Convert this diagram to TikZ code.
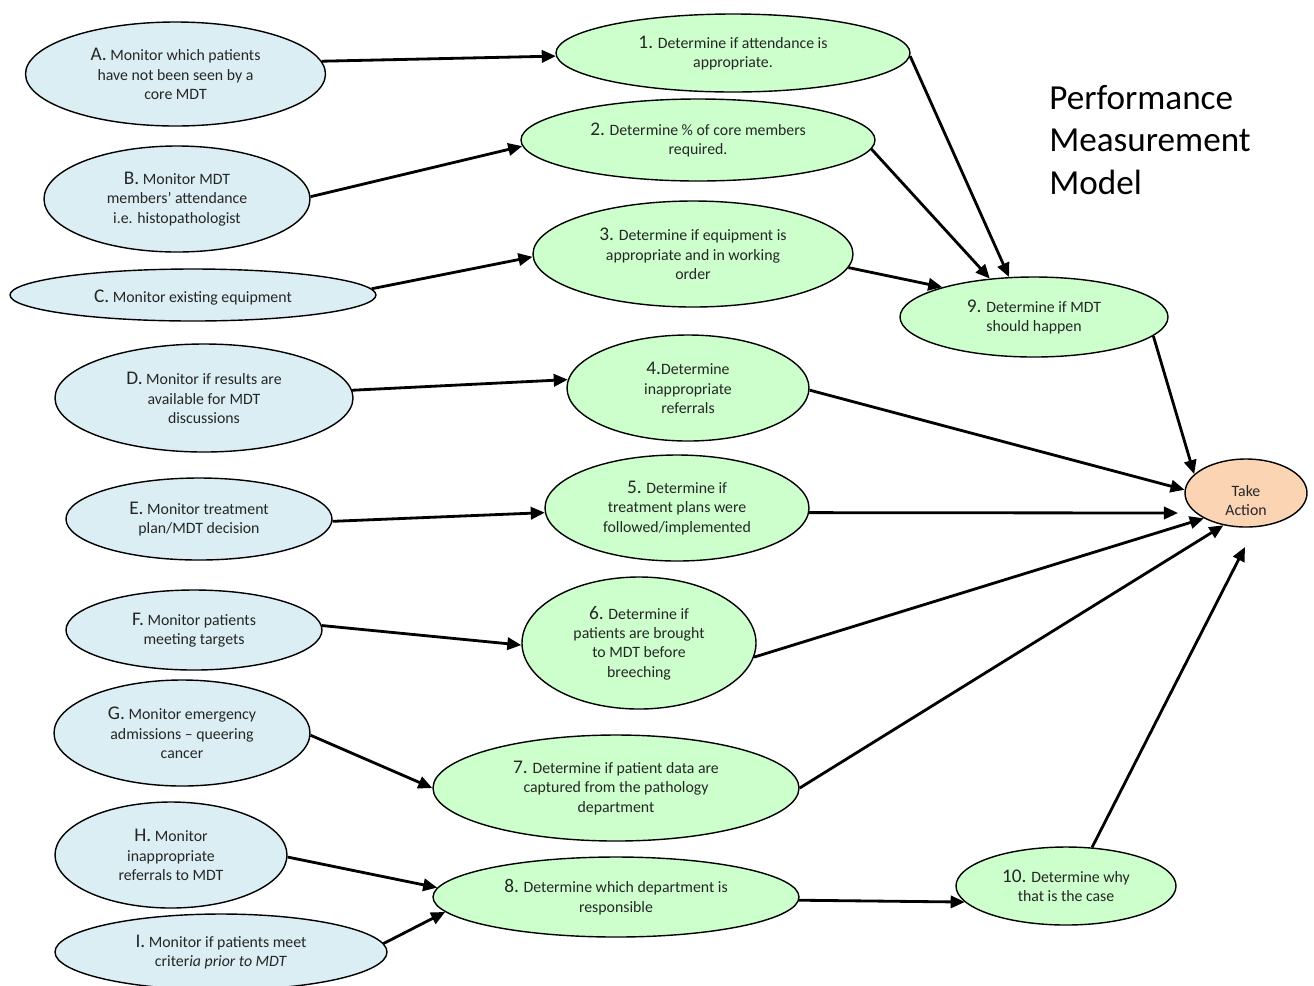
\documentclass[tikz,border=0pt]{standalone}
\usepackage{fontspec}
\setmainfont{Carlito}
\usetikzlibrary{shapes.geometric,arrows.meta}
\definecolor{bfill}{HTML}{DAEEF3}
\definecolor{gfill}{HTML}{CCFFCC}
\definecolor{ofill}{HTML}{FBD4B4}
\definecolor{txt}{HTML}{262626}
\newcommand\lbl[1]{{\fontsize{11}{11}\selectfont #1}}
\begin{document}
\begin{tikzpicture}[x=0.02cm,y=-0.02cm,
  ov/.style 2 args={ellipse,draw=black,line width=0.8pt,inner sep=0pt,
    minimum width=#1*0.02cm,minimum height=#2*0.02cm,align=center,
    text=txt,font=\fontsize{9}{11}\selectfont},
  blue/.style={fill=bfill},
  green/.style={fill=gfill},
  orange/.style={fill=ofill},
  arr/.style={line width=1.6pt,-{Triangle[length=8pt,width=7pt]}}]
\useasboundingbox (0,0) rectangle (1314,985);
% left column
\node[ov={300}{104},blue] (A) at (175.5,74) {\lbl{A.} Monitor which patients\\have not been seen by a\\core MDT};
\node[ov={266}{106},blue] (B) at (177,199) {\lbl{B.} Monitor MDT\\members’ attendance\\i.e. histopathologist};
\node[ov={366}{52},blue] (C) at (193,295) {\raisebox{0pt}[\dimexpr\height+3pt][\depth]{\lbl{C.} Monitor existing equipment}};
\node[ov={298}{108},blue] (D) at (204,398) {\lbl{D.} Monitor if results are\\available for MDT\\discussions};
\node[ov={266}{82},blue] (E) at (199,519) {\lbl{E.} Monitor treatment\\plan/MDT decision};
\node[ov={256}{80},blue] (F) at (194,630) {\lbl{F.} Monitor patients\\meeting targets};
\node[ov={256}{106},blue] (G) at (182,733) {\lbl{G.} Monitor emergency\\admissions – queering\\cancer};
\node[ov={232}{106},blue] (H) at (171,855) {\lbl{H.} Monitor\\inappropriate\\referrals to MDT};
\node[ov={332}{76},blue] (I) at (221,952) {\lbl{I.} Monitor if patients meet\\criter\textit{ia prior to MDT}};
% middle column
\node[ov={354}{78},green] (n1) at (733,53) {\lbl{1.} Determine if attendance is\\appropriate.};
\node[ov={354}{82},green] (n2) at (698,140) {\lbl{2.} Determine \% of core members\\required.};
\node[ov={320}{106},green] (n3) at (693,254) {\lbl{3.} Determine if equipment is\\appropriate and in working\\order};
\node[ov={242}{106},green] (n4) at (688,388) {\lbl{4.}Determine\\inappropriate\\referrals};
\node[ov={264}{106},green] (n5) at (677,508) {\lbl{5.} Determine if\\treatment plans were\\followed/implemented};
\node[ov={234}{132},green] (n6) at (639,643) {\lbl{6.} Determine if\\patients are brought\\to MDT before\\breeching};
\node[ov={366}{106},green] (n7) at (616,788) {\lbl{7.} Determine if patient data are\\captured from the pathology\\department};
\node[ov={366}{80},green] (n8) at (616,897) {\lbl{8.} Determine which department is\\responsible};
% right column
\node[ov={268}{80},green] (n9) at (1034,317) {\lbl{9.} Determine if MDT\\should happen};
\node[ov={220}{78},green] (n10) at (1066,886) {\lbl{10.} Determine why\\that is the case};
\node[ov={122}{68},orange,inner ysep=-8pt] (TA) at (1246,493) {\raisebox{0pt}[\dimexpr\height+10pt][\depth]{\begin{tabular}{@{}c@{}}Take\\Action\end{tabular}}};
\node[anchor=west,align=left,inner sep=0pt,font=\fontsize{20}{24}\selectfont] (title) at (1049,140) {Performance\\Measurement\\Model};
\coordinate (t5) at (1178,513);
\coordinate (t10) at (1245,547);
% connectors
\draw[arr] (A.5) -- (n1.181);
\draw[arr] (B.1) -- (n2.182);
\draw[arr] (C.2) -- (n3.181);
\draw[arr] (D.3) -- (n4.176);
\draw[arr] (E.-1) -- (n5.182);
\draw[arr] (F.2) -- (n6.181);
\draw[arr] (G.-1) -- (n7.west);
\draw[arr] (H.-1) -- (n8.177);
\draw[arr] (I.3) -- (n8.185);
\draw[arr] (n1.-1) -- (n9.122);
\draw[arr] (n2.-3) -- (n9.139);
\draw[arr] (n3.-5) -- (n9.162);
\draw[arr] (n9.-9) -- (TA.160);
\draw[arr] (n4.-1) -- (TA.177);
\draw[arr] (n5.-2) -- (t5);
\draw[arr] (n6.-7) -- (TA.211);
\draw[arr] (n7.east) -- (TA.235);
\draw[arr] (n8.-1) -- (n10.189);
\draw[arr] (n10.56) -- (t10);
\end{tikzpicture}
\end{document}
